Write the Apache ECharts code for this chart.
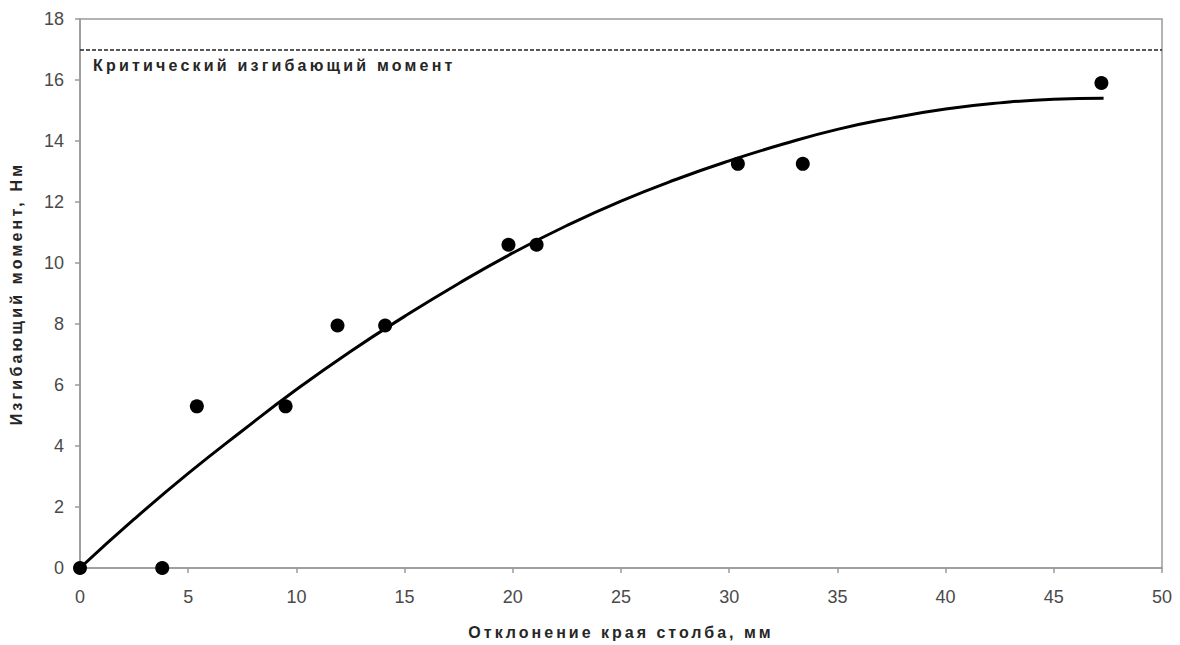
<!DOCTYPE html>
<html>
<head>
<meta charset="utf-8">
<script src="https://cdn.jsdelivr.net/npm/echarts@6/dist/echarts.min.js"></script>
<style>
  html, body { margin: 0; padding: 0; background: #fff; }
  #chart { width: 1180px; height: 645px; }
</style>
</head>
<body>
<div id="chart"></div>
<script>
// Measured deflection vs bending moment
const deflection = [0, 3.8, 5.4, 9.5, 11.9, 14.1, 19.8, 21.1, 30.4, 33.4, 47.2];
const moment = [0, 0, 5.3, 5.3, 7.95, 7.95, 10.6, 10.6, 13.25, 13.25, 15.9];

// Trend curve through the measurements
const trendX = [0, 2.5, 5, 7.5, 10, 12.5, 15, 17.5, 20, 22.5, 25, 27.5, 30, 32.5, 35, 37.5, 40, 42.5, 45, 47.3];
const trendY = [0, 1.6, 3.1, 4.5, 5.85, 7.1, 8.25, 9.33, 10.33, 11.23, 12.03, 12.73, 13.35, 13.9, 14.38, 14.75, 15.05, 15.25, 15.37, 15.4];

// Critical bending moment level
const criticalMoment = 17;
const criticalLabel = 'Критический изгибающий момент';

const xTitle = 'Отклонение края столба, мм';
const yTitle = 'Изгибающий момент, Нм';

const chart = echarts.init(document.getElementById('chart'), null, { renderer: 'svg' });

const fontFamily = 'Liberation Sans, Arial, sans-serif';
const tickLabel = { color: '#4a4a4a', fontSize: 18, fontFamily: fontFamily };
const titleStyle = { color: '#262626', fontSize: 16, fontWeight: 'bold', fontFamily: fontFamily };
const axisGray = '#9a9a9a';

chart.setOption({
  animation: false,
  grid: { left: 79, right: 18, top: 19, bottom: 75, show: true, borderColor: axisGray, borderWidth: 1.5 },
  xAxis: {
    type: 'value', min: 0, max: 50, interval: 5,
    name: xTitle, nameLocation: 'middle', nameGap: 56, nameTextStyle: titleStyle,
    axisLine: { show: true, lineStyle: { color: axisGray, width: 1.5 } },
    axisTick: { show: true, length: 5, lineStyle: { color: axisGray, width: 1.5 } },
    axisLabel: Object.assign({ margin: 20 }, tickLabel),
    splitLine: { show: false }
  },
  yAxis: {
    type: 'value', min: 0, max: 18, interval: 2,
    name: yTitle, nameLocation: 'middle', nameGap: 56, nameTextStyle: titleStyle,
    axisLine: { show: true, lineStyle: { color: axisGray, width: 1.5 } },
    axisTick: { show: true, length: 5, lineStyle: { color: axisGray, width: 1.5 } },
    axisLabel: Object.assign({ margin: 16 }, tickLabel),
    splitLine: { show: false }
  },
  series: [
    {
      type: 'line',
      data: trendX.map((x, i) => [x, trendY[i]]),
      smooth: 0.5,
      showSymbol: false,
      lineStyle: { color: '#000', width: 3 },
      z: 2,
      markLine: {
        silent: true,
        symbol: 'none',
        lineStyle: { color: '#222', type: [4, 2], width: 1.5 },
        label: {
          show: true,
          position: 'insideStartBottom',
          formatter: criticalLabel,
          distance: [13, 8],
          color: '#262626', fontSize: 16, fontWeight: 'bold',
          fontFamily: fontFamily
        },
        data: [{ yAxis: criticalMoment }]
      }
    },
    {
      type: 'scatter',
      data: deflection.map((x, i) => [x, moment[i]]),
      symbolSize: 14,
      itemStyle: { color: '#000', opacity: 1 },
      z: 3
    }
  ]
});

// Spaced-out lettering for the titles and the annotation
const spacing = {};
spacing[xTitle] = '3px';
spacing[yTitle] = '3.2px';
spacing[criticalLabel] = '3.2px';
function applySpacing() {
  document.querySelectorAll('#chart svg text').forEach(t => {
    const s = spacing[t.textContent];
    if (s) t.style.letterSpacing = s;
  });
}
applySpacing();
chart.on('finished', applySpacing);
</script>
</body>
</html>
